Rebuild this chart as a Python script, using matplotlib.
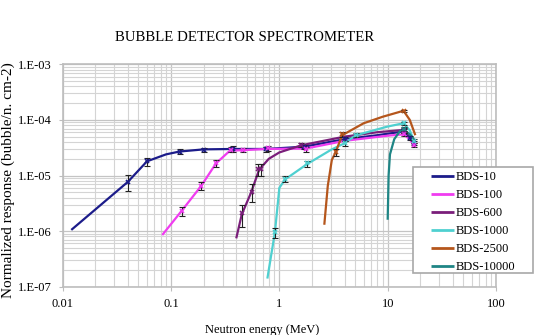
import matplotlib
matplotlib.use("Agg")
import matplotlib.pyplot as plt
from matplotlib.patches import Rectangle
from matplotlib.ticker import LogLocator, FixedLocator, NullFormatter

plt.rcParams['font.family'] = ['Liberation Serif', 'DejaVu Serif']

title = "BUBBLE DETECTOR SPECTROMETER"
xlabel = "Neutron energy (MeV)"
ylabel = "Normalized response (bubble/n. cm-2)"
names = ["BDS-10", "BDS-100", "BDS-600", "BDS-1000", "BDS-2500", "BDS-10000"]
colors = ["#1c1c8a", "#f03cf0", "#7a1e7a", "#4fd0d0", "#b5561c", "#1f8585"]

# response curves (energy MeV, response)
e10 = [0.012, 0.04, 0.06, 0.09, 0.12, 0.2, 0.37, 0.75, 1.0, 1.7, 4.0, 8.0, 14.0, 16.0, 18.0]
r10 = [1.05e-6, 7.7e-6, 1.8e-5, 2.4e-5, 2.7e-5, 2.95e-5, 3.0e-5, 3.0e-5, 3.1e-5, 3.3e-5, 4.5e-5, 5.3e-5, 6.2e-5, 4.8e-5, 3.7e-5]
e100 = [0.083, 0.125, 0.19, 0.26, 0.35, 0.45, 0.75, 1.75, 4.0, 10.0, 14.0, 16.0, 17.6]
r100 = [8.5e-7, 2.3e-6, 6.5e-6, 1.65e-5, 2.8e-5, 2.85e-5, 3.0e-5, 3.05e-5, 4.2e-5, 5.2e-5, 5.5e-5, 4.5e-5, 3.4e-5]
e600 = [0.4, 0.45, 0.55, 0.65, 0.8, 1.0, 1.6, 4.0, 8.0, 14.0, 16.0, 18.0]
r600 = [7.4e-7, 2.0e-6, 5.0e-6, 1.27e-5, 2.0e-5, 2.6e-5, 3.5e-5, 5.0e-5, 6.0e-5, 6.6e-5, 5.3e-5, 4.0e-5]
e1000 = [0.775, 0.91, 1.0, 1.13, 1.8, 3.0, 4.0, 5.1, 10.0, 14.0, 16.0, 17.5]
r1000 = [1.4e-7, 9.5e-7, 6.0e-6, 8.5e-6, 1.6e-5, 2.9e-5, 3.8e-5, 5.3e-5, 7.6e-5, 8.7e-5, 6.5e-5, 4.2e-5]
e2500 = [2.6, 2.8, 3.05, 3.3, 3.8, 6.0, 9.0, 14.0, 16.0, 18.0]
r2500 = [1.3e-6, 6.5e-6, 1.9e-5, 2.6e-5, 5.3e-5, 8.7e-5, 1.14e-4, 1.46e-4, 1.0e-4, 5.3e-5]
e10000 = [10.0, 10.2, 10.5, 11.5, 13.0, 14.0, 16.0, 17.5]
r10000 = [1.6e-6, 1.0e-5, 2.4e-5, 4.5e-5, 6.3e-5, 6.8e-5, 5.5e-5, 4.5e-5]

# measured points (energy, response, error)
m10_e = [0.04, 0.06, 0.12, 0.2, 0.37, 0.75, 1.7, 4.0, 14.0, 16.0, 17.5]
m10_r = [7.7e-6, 1.8e-5, 2.7e-5, 2.9e-5, 3.0e-5, 3.0e-5, 3.3e-5, 4.6e-5, 6.3e-5, 4.8e-5, 3.8e-5]
m10_s = [2.5e-6, 3e-6, 3e-6, 2.5e-6, 4e-6, 3e-6, 3e-6, 4e-6, 5e-6, 4e-6, 3e-6]
m100_e = [0.125, 0.19, 0.26, 0.36, 0.46, 0.78, 1.75, 14.0, 17.5]
m100_r = [2.3e-6, 6.5e-6, 1.65e-5, 2.9e-5, 2.85e-5, 3.1e-5, 3.0e-5, 5.5e-5, 3.5e-5]
m100_s = [4e-7, 1e-6, 2.5e-6, 3e-6, 2.5e-6, 3.5e-6, 3e-6, 4e-6, 3e-6]
m600_e = [0.455, 0.56, 0.64, 0.68, 1.6, 14.0]
m600_r = [2.1e-6, 5.1e-6, 1.3e-5, 1.3e-5, 3.5e-5, 6.6e-5]
m600_s = [9e-7, 1.8e-6, 3e-6, 3e-6, 3e-6, 5e-6]
m1000_e = [0.91, 1.13, 1.8, 4.0, 5.1, 14.0, 17.5]
m1000_r = [9.5e-7, 8.7e-6, 1.65e-5, 3.8e-5, 5.3e-5, 8.7e-5, 4.2e-5]
m1000_s = [2e-7, 1e-6, 2e-6, 4e-6, 4e-6, 6e-6, 4e-6]
m2500_e = [3.3, 3.8, 14.0]
m2500_r = [2.6e-5, 5.5e-5, 1.45e-4]
m2500_s = [4e-6, 6e-6, 8e-6]
m10000_e = [14.0]
m10000_r = [6.8e-5]
m10000_s = [5e-6]

xticks = [0.01, 0.1, 1, 10, 100]
xticklabels = ["0.01", "0.1", "1", "10", "100"]
yticks = [1e-7, 1e-6, 1e-5, 1e-4, 1e-3]
yticklabels = ["1.E-07", "1.E-06", "1.E-05", "1.E-04", "1.E-03"]

curves = [(e10, r10), (e100, r100), (e600, r600), (e1000, r1000), (e2500, r2500), (e10000, r10000)]
meas = [(m10_e, m10_r, m10_s), (m100_e, m100_r, m100_s), (m600_e, m600_r, m600_s),
        (m1000_e, m1000_r, m1000_s), (m2500_e, m2500_r, m2500_s), (m10000_e, m10000_r, m10000_s)]

W, H = 544, 335
fig = plt.figure(figsize=(W/100, H/100), dpi=100)
ax = fig.add_axes([62.7/W, 1-286.7/H, (496-62.7)/W, (286.7-64.3)/H])
ax.set_xscale('log')
ax.set_yscale('log')
ax.set_xlim(0.01, 100)
ax.set_ylim(1e-7, 1e-3)

handles = []
for (e, r), (me, mr, ms), c, n in zip(curves, meas, colors, names):
    h, = ax.plot(e, r, color=c, lw=1.6, label=n, zorder=3, solid_capstyle='butt')
    handles.append(h)
    ax.errorbar(me, mr, yerr=ms, fmt='none', ecolor='#222222', elinewidth=0.8,
                capsize=2.5, capthick=0.8, zorder=4)
    ax.plot(me, mr, linestyle='none', marker='x', ms=3.5, mew=1.2, color=c, zorder=5)

ax.xaxis.set_major_locator(FixedLocator(xticks))
ax.set_xticklabels(xticklabels)
ax.yaxis.set_major_locator(FixedLocator(yticks))
ax.set_yticklabels(yticklabels)
ax.xaxis.set_minor_locator(LogLocator(base=10, subs=range(2, 10), numticks=20))
ax.yaxis.set_minor_locator(LogLocator(base=10, subs=range(2, 10), numticks=20))
ax.xaxis.set_minor_formatter(NullFormatter())
ax.yaxis.set_minor_formatter(NullFormatter())
ax.grid(True, which='major', color='#c4c4c4', lw=0.9)
ax.grid(True, which='minor', color='#d4d4d4', lw=0.8)
ax.set_axisbelow(True)
ax.tick_params(which='major', length=3, color='#bdbdbd', labelsize=9, pad=5)
ax.tick_params(which='minor', length=0)
for s in ax.spines.values():
    s.set_color('#bdbdbd')
    s.set_linewidth(1.2)

fig.text(244.5/W, 1-41/H, title, ha='center', va='baseline', fontsize=10.7)
fig.text(262/W, 1-333/H, xlabel, ha='center', va='baseline', fontsize=9)
fig.text(8/W, 1-180/H, ylabel, ha='center', va='center', rotation=90, fontsize=11)

# legend box (frame drawn separately for its wide side padding)
frame = Rectangle((413/W, 1-273/H), 120/W, 106/H, transform=fig.transFigure,
                  facecolor='white', edgecolor='#a8a8a8', lw=1.2, zorder=4)
fig.add_artist(frame)
leg = fig.legend(handles=handles, loc='upper left', bbox_to_anchor=(430.7/W, 1-171.5/H),
                 fontsize=9, frameon=False, handlelength=1.85,
                 handletextpad=0.15, labelspacing=0.47, borderpad=0, borderaxespad=0)
leg.set_zorder(5)
for l in leg.get_lines():
    l.set_linewidth(2)

fig.savefig("out.png", dpi=100)
